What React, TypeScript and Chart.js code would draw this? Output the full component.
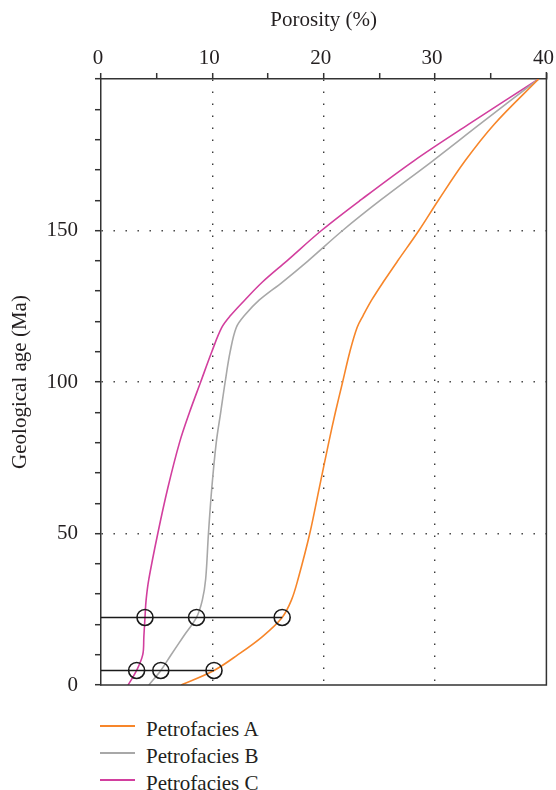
import React, { useEffect, useRef } from "react";
import { Chart, registerables } from "chart.js";

Chart.register(...registerables);

// Geological age (Ma) at which each porosity value was sampled
const AGES_MA = [0, 4.8, 10, 16, 22.3, 28, 35, 50, 65, 80, 90, 100, 110, 118, 122, 127, 133, 140, 150, 160, 173, 185, 200];

// Porosity (%) of each petrofacies at those ages
const POROSITY_A = [7.2, 10.15, 12.3, 14.5, 16.27, 17.1, 17.7, 18.75, 19.6, 20.45, 21.05, 21.7, 22.35, 23.0, 23.55, 24.3, 25.35, 26.65, 28.55, 30.3, 32.7, 35.3, 39.3];
const POROSITY_B = [4.3, 5.37, 6.3, 7.4, 8.58, 9.1, 9.4, 9.65, 9.95, 10.35, 10.75, 11.15, 11.6, 12.15, 12.9, 14.2, 16.3, 18.6, 21.7, 25.1, 29.8, 34.0, 39.3];
const POROSITY_C = [2.43, 3.2, 3.75, 3.85, 3.95, 4.05, 4.3, 5.1, 6.0, 7.05, 7.95, 8.95, 9.95, 10.85, 11.65, 12.9, 14.5, 16.7, 19.8, 23.3, 28.1, 33.0, 39.3];

const SERIES_LABELS = ["Petrofacies A", "Petrofacies B", "Petrofacies C"];
const SERIES_COLORS = ["#f7862a", "#a8a8a8", "#d23f9e"];

// Marked ages with the porosity of each petrofacies there (A, B, C)
const MARKED_AGES = [22.3, 4.8];
const MARKED_POROSITY = [
  [16.27, 8.58, 3.95],
  [10.15, 5.37, 3.2],
];

// Axis ranges and tick steps
const X_TITLE = "Porosity (%)";
const Y_TITLE = "Geological age (Ma)";
const X_MIN = 0;
const X_MAX = 40;
const X_STEP = 5;
const X_LABEL_STEP = 10;
const Y_MIN = 0;
const Y_MAX = 200;
const Y_STEP = 10;
const Y_LABEL_STEP = 50;

const FONT_FAMILY = "'Liberation Serif', 'DejaVu Serif', serif";
const TEXT_COLOR = "#231f20";
const AXIS_COLOR = "#333333";

const CANVAS_W = 556;
const CANVAS_H = 700;

// Closes the plot frame on the right and bottom sides
const frameBox = {
  id: "frameBox",
  afterDatasetsDraw(chart: any) {
    const { ctx, chartArea } = chart;
    ctx.save();
    ctx.strokeStyle = AXIS_COLOR;
    ctx.lineWidth = 1.5;
    ctx.beginPath();
    ctx.moveTo(chartArea.right, chartArea.top - 7);
    ctx.lineTo(chartArea.right, chartArea.bottom);
    ctx.lineTo(chartArea.left - 1, chartArea.bottom);
    ctx.stroke();
    ctx.restore();
  },
};

function App() {
  const canvasRef = useRef<HTMLCanvasElement | null>(null);

  useEffect(() => {
    document.body.style.margin = "0";
    const canvas = canvasRef.current;
    if (!canvas) return;

    const curves = [POROSITY_A, POROSITY_B, POROSITY_C].map((vals, i) => ({
      label: SERIES_LABELS[i],
      data: vals.map((p, k) => ({ x: p, y: AGES_MA[k] })),
      showLine: true,
      borderColor: SERIES_COLORS[i],
      borderWidth: 1.6,
      pointRadius: 0,
      tension: 0.35,
      order: 3,
    }));

    const guideLines = MARKED_AGES.map((age, r) => ({
      label: "guide" + r,
      data: [
        { x: 0, y: age },
        { x: Math.max(...MARKED_POROSITY[r]), y: age },
      ],
      showLine: true,
      borderColor: "#1a1a1a",
      borderWidth: 1.6,
      pointRadius: 0,
      order: 2,
    }));

    const markers = {
      label: "markers",
      data: MARKED_AGES.flatMap((age, r) => MARKED_POROSITY[r].map((p) => ({ x: p, y: age }))),
      showLine: false,
      pointStyle: "circle",
      pointRadius: 8,
      pointBorderWidth: 1.6,
      pointBorderColor: "#1a1a1a",
      pointBackgroundColor: "rgba(0,0,0,0)",
      order: 1,
    };

    const tickFont = { family: FONT_FAMILY, size: 21 };

    const chart = new Chart(canvas, {
      type: "scatter",
      data: { datasets: [...curves, ...guideLines, markers] as any },
      plugins: [frameBox],
      options: {
        animation: false,
        responsive: false,
        maintainAspectRatio: false,
        events: [],
        layout: { padding: { left: 0, right: 6, top: 0, bottom: 15 } },
        plugins: {
          legend: { display: false },
          tooltip: { enabled: false },
        },
        scales: {
          x: {
            type: "linear",
            position: "top",
            min: X_MIN,
            max: X_MAX,
            title: {
              display: true,
              text: X_TITLE,
              color: TEXT_COLOR,
              font: { family: FONT_FAMILY, size: 21 },
              padding: { top: 8, bottom: 0 },
            },
            ticks: {
              stepSize: X_STEP,
              autoSkip: false,
              maxRotation: 0,
              color: TEXT_COLOR,
              font: tickFont,
              padding: 2,
              labelOffset: -3,
              callback: (v: any) => (Number(v) % X_LABEL_STEP === 0 ? String(v) : ""),
            },
            grid: {
              drawOnChartArea: true,
              drawTicks: true,
              tickLength: 6,
              lineWidth: 1.4,
              color: (c: any) => {
                const v = c.tick ? c.tick.value : null;
                return v !== null && v % X_LABEL_STEP === 0 && v > X_MIN && v < X_MAX ? "#3a3a3a" : "rgba(0,0,0,0)";
              },
              tickColor: AXIS_COLOR,
              tickWidth: 1.5,
            },
            border: { display: true, color: AXIS_COLOR, width: 1.5, dash: [1.4, 10.6] },
            afterFit: (s: any) => {
              s.height = 79;
              s.paddingLeft = 0;
              s.paddingRight = 0;
            },
          },
          y: {
            type: "linear",
            position: "left",
            min: Y_MIN,
            max: Y_MAX,
            title: {
              display: true,
              text: Y_TITLE,
              color: TEXT_COLOR,
              font: { family: FONT_FAMILY, size: 21 },
              padding: { top: 8, bottom: 0 },
            },
            ticks: {
              stepSize: Y_STEP,
              autoSkip: false,
              color: TEXT_COLOR,
              font: tickFont,
              padding: 17,
              callback: (v: any) =>
                Number(v) % Y_LABEL_STEP === 0 && Number(v) < Y_MAX ? String(v) : "",
            },
            grid: {
              drawOnChartArea: true,
              drawTicks: true,
              tickLength: 6,
              lineWidth: 1.4,
              color: (c: any) => {
                const v = c.tick ? c.tick.value : null;
                return v !== null && v % Y_LABEL_STEP === 0 && v > Y_MIN && v < Y_MAX ? "#3a3a3a" : "rgba(0,0,0,0)";
              },
              tickColor: AXIS_COLOR,
              tickWidth: 1.5,
            },
            border: { display: true, color: AXIS_COLOR, width: 1.5, dash: [1.4, 10.6] },
            afterFit: (s: any) => {
              s.width = 101;
              s.paddingTop = 0;
              s.paddingBottom = 0;
            },
          },
        },
      },
    });

    return () => chart.destroy();
  }, []);

  const legendLineTop = 726;
  const legendGap = 27;

  return (
    <div style={{ position: "relative", width: CANVAS_W, height: 790, overflow: "hidden", background: "#fff" }}>
      <canvas
        ref={canvasRef}
        width={CANVAS_W}
        height={CANVAS_H}
        style={{ display: "block", width: CANVAS_W, height: CANVAS_H }}
      />
      {SERIES_LABELS.map((label, i) => (
        <React.Fragment key={label}>
          <div
            style={{
              position: "absolute",
              left: 100,
              top: legendLineTop + i * legendGap - 1,
              width: 35,
              height: 2,
              background: SERIES_COLORS[i],
            }}
          />
          <div
            style={{
              position: "absolute",
              left: 146,
              top: legendLineTop + i * legendGap - 9,
              height: 24,
              lineHeight: "24px",
              fontFamily: FONT_FAMILY,
              fontSize: 21,
              color: TEXT_COLOR,
              whiteSpace: "nowrap",
            }}
          >
            {label}
          </div>
        </React.Fragment>
      ))}
    </div>
  );
}

export default App;
